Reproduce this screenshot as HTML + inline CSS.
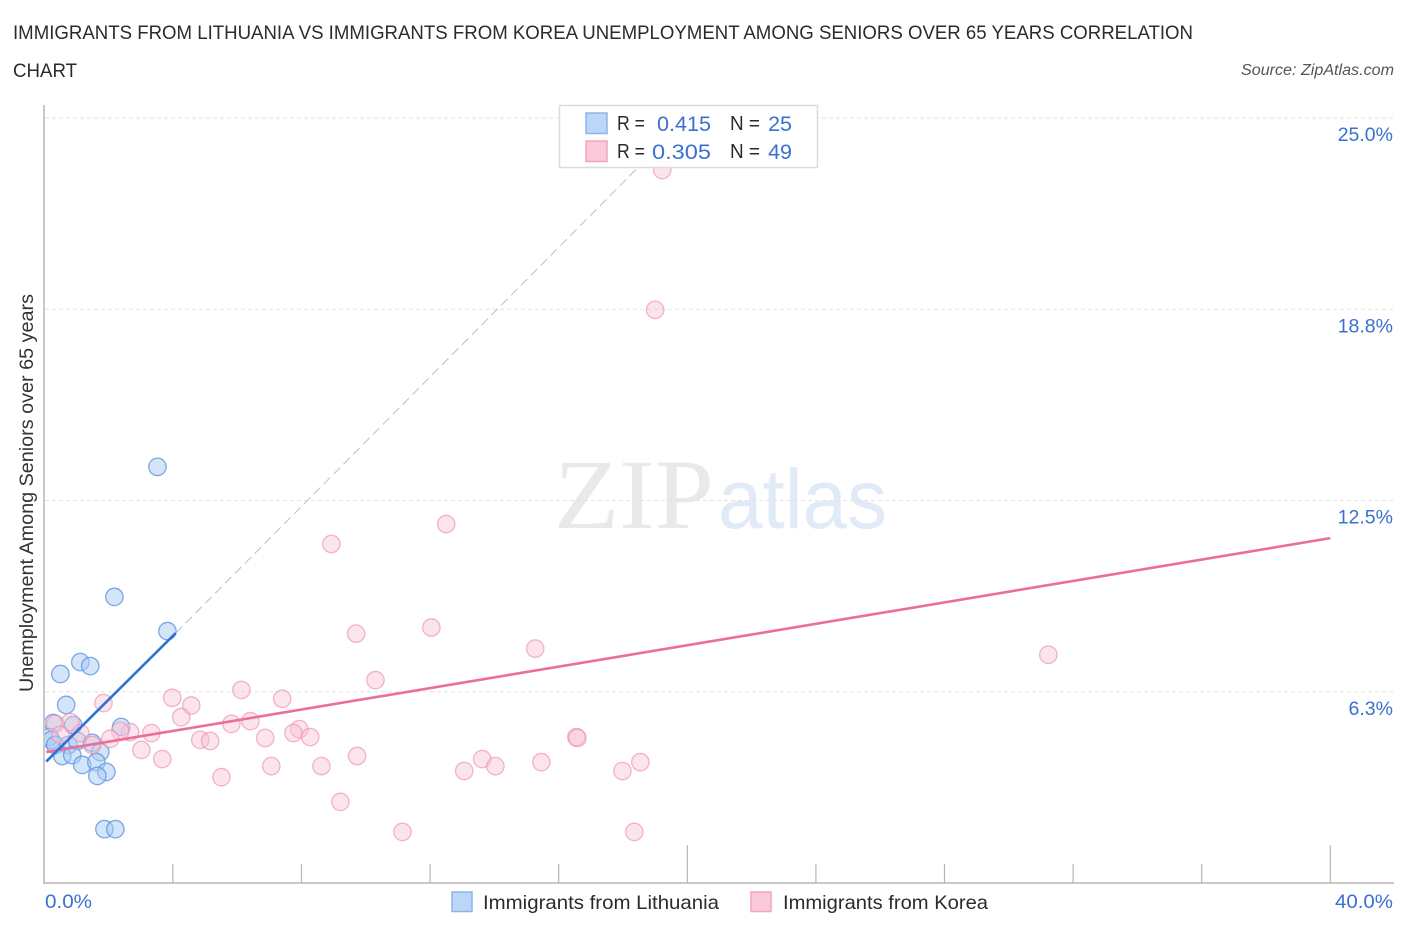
<!DOCTYPE html>
<html lang="en">
<head>
<meta charset="utf-8">
<title>Unemployment Among Seniors over 65 years Correlation Chart</title>
<style>
html,body{margin:0;padding:0;background:#fff;width:1406px;height:930px;overflow:hidden}
svg{display:block;font-family:"Liberation Sans",sans-serif}
</style>
</head>
<body>
<svg id="chart" width="1406" height="930" viewBox="0 0 1406 930" xmlns="http://www.w3.org/2000/svg">
  <defs><clipPath id="plot-clip"><rect x="45" y="100" width="1349" height="783"/></clipPath></defs>
  <text x="13" y="39" font-size="19.5" fill="#2b2b2b" textLength="1180" lengthAdjust="spacingAndGlyphs">IMMIGRANTS FROM LITHUANIA VS IMMIGRANTS FROM KOREA UNEMPLOYMENT AMONG SENIORS OVER 65 YEARS CORRELATION</text>
  <text x="13" y="77" font-size="19.5" fill="#2b2b2b" textLength="64" lengthAdjust="spacingAndGlyphs">CHART</text>
  <text x="1394" y="75" font-size="15.500" font-style="italic" fill="#555" text-anchor="end" textLength="153" lengthAdjust="spacingAndGlyphs">Source: ZipAtlas.com</text>

  <g>
    <text x="554" y="528" font-family="'Liberation Serif',serif" font-size="100" fill="#e9e9e9" textLength="160" lengthAdjust="spacingAndGlyphs">ZIP</text>
    <text x="718" y="528" font-size="84" fill="#e1ebf8" textLength="169" lengthAdjust="spacingAndGlyphs">atlas</text>
  </g>

  <g id="grid"></g>
  <g id="axes"></g>
  <g id="pts" clip-path="url(#plot-clip)"></g>
  <g id="trends"></g>
  <g id="ylabels"></g>
  <g id="xlabels"></g>

  <text transform="translate(33,493) rotate(-90)" font-size="19" fill="#333" text-anchor="middle" textLength="398" lengthAdjust="spacingAndGlyphs">Unemployment Among Seniors over 65 years</text>

  <g>
    <rect x="559.5" y="105.5" width="258" height="62" fill="#fff" fill-opacity="0.9" stroke="#dcdcdc" stroke-width="1.5"/>
    <rect x="586" y="113" width="21" height="20.500" fill="#bcd6f8" stroke="#8db5e8" stroke-width="1.500"/>
    <rect x="586" y="141" width="21" height="20.500" fill="#fcc9da" stroke="#f0a5bf" stroke-width="1.500"/>
    <g font-size="20" fill="#2b2b2b">
      <text x="617" y="130" textLength="28" lengthAdjust="spacingAndGlyphs">R =</text>
      <text x="730" y="130" textLength="30" lengthAdjust="spacingAndGlyphs">N =</text>
      <text x="617" y="158" textLength="28" lengthAdjust="spacingAndGlyphs">R =</text>
      <text x="730" y="158" textLength="30" lengthAdjust="spacingAndGlyphs">N =</text>
    </g>
    <g font-size="21.500" fill="#3a70cf">
      <text x="657" y="131" textLength="54" lengthAdjust="spacingAndGlyphs">0.415</text>
      <text x="792" y="131" text-anchor="end">25</text>
      <text x="652" y="159" textLength="59" lengthAdjust="spacingAndGlyphs">0.305</text>
      <text x="792" y="159" text-anchor="end">49</text>
    </g>
  </g>

  <g>
    <rect x="452" y="892" width="20" height="19.500" fill="#bcd6f8" stroke="#8db5e8" stroke-width="1.500"/>
    <text x="483" y="909" font-size="19.500" fill="#2b2b2b" textLength="236" lengthAdjust="spacingAndGlyphs">Immigrants from Lithuania</text>
    <rect x="751" y="892" width="20" height="19.500" fill="#fcc9da" stroke="#f0a5bf" stroke-width="1.500"/>
    <text x="783" y="909" font-size="19.500" fill="#2b2b2b" textLength="205" lengthAdjust="spacingAndGlyphs">Immigrants from Korea</text>
  </g>
</svg>
<script>
const yTicks = [6.25, 12.5, 18.75, 25];
const yTickLabels = ["6.3%", "12.5%", "18.8%", "25.0%"];
const xTicks = [0, 4, 8, 12, 16, 20, 24, 28, 32, 36, 40];
const xEndLabels = ["0.0%", "40.0%"];
const lithuaniaX = [3.52, 2.18, 3.83, 1.12, 1.43, 0.50, 0.68, 0.28, 2.39, 0.90, 0.16, 0.22, 0.34, 0.75, 1.03, 1.49, 1.74, 0.56, 0.87, 1.18, 1.62, 1.93, 1.65, 1.87, 2.21];
const lithuaniaY = [13.60, 9.35, 8.23, 7.22, 7.09, 6.83, 5.82, 5.23, 5.10, 5.16, 4.77, 4.67, 4.51, 4.51, 4.64, 4.58, 4.28, 4.15, 4.18, 3.86, 3.95, 3.63, 3.50, 1.76, 1.76];
const koreaX = [19.22, 19.00, 12.50, 8.93, 9.70, 12.04, 15.27, 31.23, 10.30, 6.13, 3.98, 7.40, 4.57, 1.84, 4.26, 6.41, 5.82, 7.93, 7.75, 8.27, 6.87, 3.33, 2.67, 2.36, 2.05, 4.85, 5.16, 3.02, 3.67, 1.49, 1.12, 0.81, 0.34, 0.50, 9.73, 8.62, 7.06, 5.51, 9.21, 11.14, 13.06, 13.62, 14.03, 15.46, 16.55, 16.58, 17.98, 18.54, 18.35];
const koreaY = [23.30, 18.73, 11.73, 11.08, 8.15, 8.35, 7.66, 7.46, 6.63, 6.31, 6.05, 6.02, 5.80, 5.88, 5.42, 5.29, 5.20, 5.03, 4.90, 4.77, 4.74, 4.90, 4.93, 4.97, 4.71, 4.68, 4.64, 4.35, 4.05, 4.51, 4.90, 5.26, 5.20, 4.84, 4.15, 3.82, 3.82, 3.46, 2.65, 1.67, 3.66, 4.05, 3.82, 3.95, 4.77, 4.74, 3.66, 3.95, 1.67];
const lithuaniaTrendX = [0.06, 4.09];
const lithuaniaTrendY = [3.97, 8.17];
const lithuaniaDashX = [4.09, 18.7];
const lithuaniaDashY = [8.17, 23.63];
const koreaTrendX = [0.06, 40];
const koreaTrendY = [4.28, 11.27];

const NS = "http://www.w3.org/2000/svg";
const sx = v => 44.3 + v * 32.15;
const sy = v => 883 - v * 30.6;
function mk(parent, tag, attrs) {
  const el = document.createElementNS(NS, tag);
  for (const k in attrs) el.setAttribute(k, attrs[k]);
  document.getElementById(parent).appendChild(el);
  return el;
}

yTicks.forEach((t, i) => {
  const g = mk("grid", "line", {x1: 45, x2: 1394, y1: sy(t), y2: sy(t), stroke: "#e2e2e2", "stroke-width": 1, "stroke-dasharray": "4 3"});
  
  
  const l = mk("ylabels", "text", {x: 1393, y: sy(t) + 23, "font-size": 19.5, fill: "#3a70cf", "text-anchor": "end"});
  
  
  l.textContent = yTickLabels[i];
});

const yAxis = mk("axes", "line", {x1: 44, x2: 44, y1: 105, y2: 884, stroke: "#b5b5b5", "stroke-width": 1.5});


const xAxis = mk("axes", "line", {x1: 44, x2: 1394, y1: 883, y2: 883, stroke: "#b5b5b5", "stroke-width": 1.5});


xTicks.slice(1).forEach(t => {
  const tall = t === 20 || t === 40;
  const tk = mk("axes", "line", {x1: sx(t), x2: sx(t), y1: tall ? 845 : 864, y2: 883, stroke: "#b5b5b5", "stroke-width": 1.2});
  
  
});

const x0Label = mk("xlabels", "text", {x: 45, y: 908, "font-size": 19.5, fill: "#3a70cf", textLength: 47, lengthAdjust: "spacingAndGlyphs"});


x0Label.textContent = xEndLabels[0];
const x1Label = mk("xlabels", "text", {x: 1335, y: 908, "font-size": 19.5, fill: "#3a70cf", textLength: 58, lengthAdjust: "spacingAndGlyphs"});


x1Label.textContent = xEndLabels[1];

lithuaniaX.forEach((v, i) => {
  const c = mk("pts", "circle", {cx: sx(v), cy: sy(lithuaniaY[i]), r: 8.7, fill: "#a9cbf5", "fill-opacity": 0.5, stroke: "#5b96e0", "stroke-opacity": 0.8, "stroke-width": 1.3});
  
  
});
koreaX.forEach((v, i) => {
  const c = mk("pts", "circle", {cx: sx(v), cy: sy(koreaY[i]), r: 8.7, fill: "#f9c3d5", "fill-opacity": 0.45, stroke: "#eb8fae", "stroke-opacity": 0.65, "stroke-width": 1.3});
  
  
});

const dash = mk("trends", "line", {x1: sx(lithuaniaDashX[0]), y1: sy(lithuaniaDashY[0]), x2: sx(lithuaniaDashX[1]), y2: sy(lithuaniaDashY[1]), stroke: "#9dbde6", "stroke-width": 0.9, "stroke-dasharray": "9 5"});


const tk = mk("trends", "line", {x1: sx(koreaTrendX[0]), y1: sy(koreaTrendY[0]), x2: sx(koreaTrendX[1]), y2: sy(koreaTrendY[1]), stroke: "#ec6d99", "stroke-width": 2.6});


const tl = mk("trends", "line", {x1: sx(lithuaniaTrendX[0]), y1: sy(lithuaniaTrendY[0]), x2: sx(lithuaniaTrendX[1]), y2: sy(lithuaniaTrendY[1]), stroke: "#2a72d8", "stroke-width": 2.6});


</script>
</body>
</html>
